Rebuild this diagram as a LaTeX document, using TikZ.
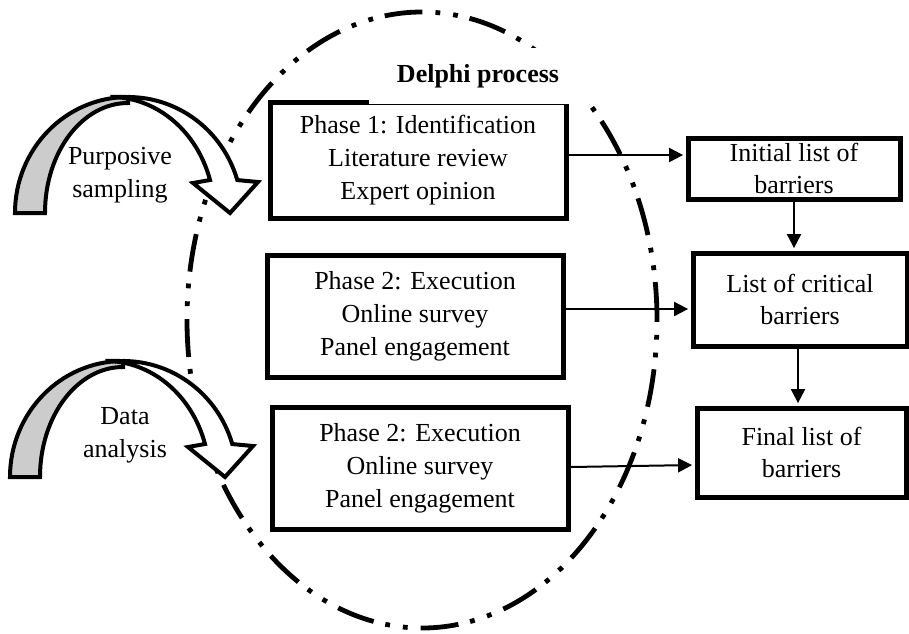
\documentclass[tikz,border=0pt]{standalone}
\usepackage{fontspec}
\setmainfont{Liberation Serif}
\usetikzlibrary{arrows.meta}
\tikzset{
  curvedarrow/.pic={
    \filldraw[band, fill=black!20] (-113,0) -- (-83,0)
      arc[start angle=180, end angle=90, x radius=41.5pt, y radius=55pt]
      -- (0,-116)
      arc[start angle=90, end angle=180, x radius=56.5pt, y radius=58pt] -- cycle;
    \filldraw[band, fill=white] (0,-116)
      arc[start angle=90, end angle=16.5, x radius=57pt, y radius=58pt]
      -- (130,-31) -- (102,0) -- (65,-30) -- (82,-33)
      arc[start angle=16.5, end angle=90, x radius=52pt, y radius=58pt] -- cycle;
  }
}
\begin{document}
\begin{tikzpicture}[x=0.5pt,y=-0.5pt,
  txt/.style={font=\fontsize{13}{16.5}\selectfont, align=center},
  phasebox/.style={txt, draw, line width=2.5pt, minimum width=148pt, inner sep=0pt},
  listbox/.style={font=\fontsize{13}{16}\selectfont, align=center, draw, line width=2.5pt, inner sep=0pt},
  conn/.style={line width=1pt, shorten >=1.2pt, -{Triangle[length=7pt,width=7pt]}},
  delphi/.style={line width=2.4pt, dash pattern=on 19pt off 6pt on 2.4pt off 6.5pt on 2.4pt off 6.5pt},
  band/.style={draw, line width=2pt, line join=miter}
]
\useasboundingbox (0,0) rectangle (909,633);

% Delphi process boundary
\draw[delphi] (422,320) ellipse [x radius=117.5pt, y radius=154pt];

% curved block arrows
\pic at (128,213) {curvedarrow};
\pic at (123,477) {curvedarrow};
\node[txt] (ps) at (120,175) {Purposive\\sampling};
\node[txt] (da) at (125,435) {Data\\analysis};

% phase boxes
\node[phasebox, minimum height=58pt] (p1) at (418,160) {Phase 1: Identification\\Literature review\\Expert opinion};
\node[phasebox, minimum height=61pt] (p2) at (415,316) {Phase 2: Execution\\Online survey\\Panel engagement};
\node[phasebox, minimum height=61pt] (p3) at (420,468) {Phase 2: Execution\\Online survey\\Panel engagement};

% result boxes
\node[listbox, minimum width=106pt, minimum height=30.5pt] (init) at (794,168.5) {Initial list of\\barriers};
\node[listbox, minimum width=107pt, minimum height=46.5pt] (crit) at (800,299.5) {List of critical\\barriers};
\node[listbox, minimum width=104.5pt, minimum height=44.5pt] (final) at (801.5,452.5) {Final list of\\barriers};

% connectors
\coordinate (a1) at ([yshift=2.5pt]p1.east);
\draw[conn] (a1) -- (a1 -| init.west);
\coordinate (a2) at ([yshift=3.5pt]p2.east);
\draw[conn] (a2) -- (a2 -| crit.west);
\coordinate (a3s) at ([yshift=0.5pt]p3.east);
\coordinate (a3e) at ([yshift=-6.25pt]final.west);
\draw[conn] (a3s) -- (a3e);
\draw[conn] (init.south) -- (init.south |- crit.north);
\coordinate (v2) at ([xshift=-1pt]crit.south);
\draw[conn] (v2) -- (v2 |- final.north);

% title label (white patch covers part of box and boundary)
\node[fill=white, font=\bfseries\fontsize{13}{15}\selectfont, minimum width=109pt, minimum height=28pt, inner sep=0pt] (lbl) at (478,76) {Delphi process};
\end{tikzpicture}
\end{document}
